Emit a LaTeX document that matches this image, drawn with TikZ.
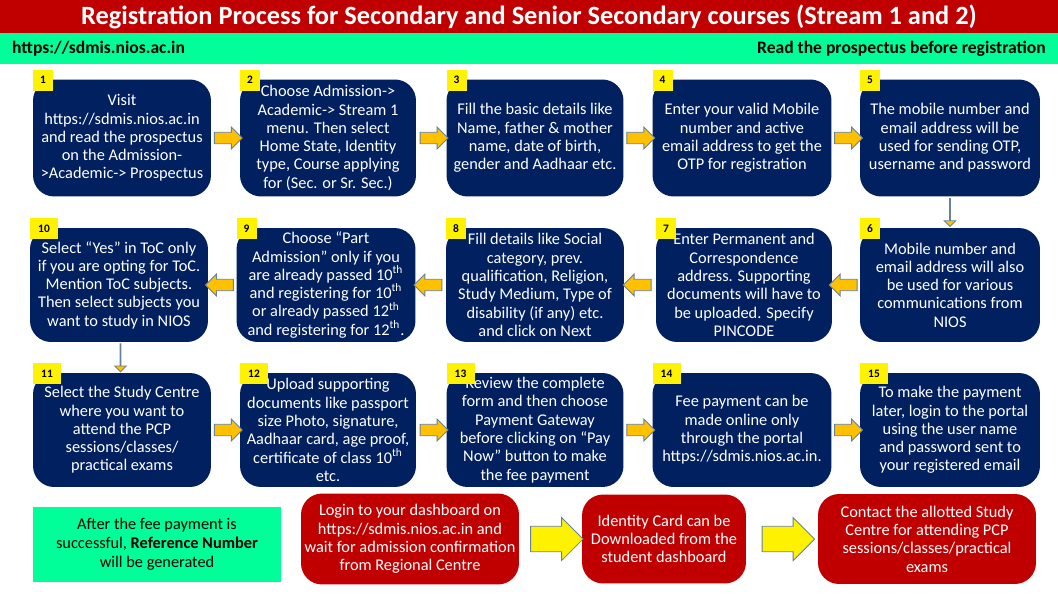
\documentclass[tikz,border=0pt]{standalone}
\usepackage{fontspec}
\setmainfont{Carlito}
\usetikzlibrary{shapes.arrows,calc}
\definecolor{navy}{RGB}{0,32,96}
\definecolor{titlered}{RGB}{192,0,0}
\definecolor{bargreen}{RGB}{0,255,153}
\definecolor{arroworange}{RGB}{255,192,0}
\definecolor{arrowedge}{RGB}{100,130,160}
\tikzset{
  stepbox/.style={fill=navy,text=white,rounded corners=12pt,align=center,
    font=\fontsize{9.3}{10.4}\selectfont,inner sep=1pt},
  redbox/.style={fill=titlered,text=white,rounded corners=12pt,align=center,
    font=\fontsize{9.3}{10.4}\selectfont,inner sep=1pt},
  badge/.style={fill=yellow,font=\fontsize{6.5}{7}\selectfont\bfseries,inner sep=0pt,
    minimum height=0.42cm,anchor=north west},
  blockarrow/.style={single arrow,fill=arroworange,draw=arrowedge,line width=0.5pt,
    minimum height=0.56cm,inner xsep=0pt,inner ysep=3pt,single arrow head extend=3pt},
  bigarrow/.style={single arrow,fill=yellow,draw=arrowedge,line width=0.5pt,
    minimum height=1.05cm,inner xsep=0pt,inner ysep=7pt,single arrow head extend=5pt}
}
\newcommand{\ordth}{\textsuperscript{th}}
\begin{document}
\begin{tikzpicture}[x=0.02cm,y=-0.02cm]
  \useasboundingbox (0,0) rectangle (1058,612);
  \fill[white] (0,0) rectangle (1058,612);
  % header bars
  \fill[titlered] (0,0) rectangle (1058,33);
  \node[text=white,font=\fontsize{15}{16}\selectfont\bfseries] (title) at (529,17)
    {Registration Process for Secondary and Senior Secondary courses (Stream 1 and 2)};
  \fill[bargreen] (0,33) rectangle (1058,64);
  \node[anchor=west,font=\fontsize{10}{12}\selectfont\bfseries] (site) at (6,49) {https://sdmis.nios.ac.in};
  \node[anchor=east,font=\fontsize{10}{12}\selectfont\bfseries] (read) at (1052,49) {Read the prospectus before registration};
  % row 1
  \node[stepbox,minimum width=3.56cm,minimum height=2.34cm] (s1) at (122,138)
    {Visit\\https://sdmis.nios.ac.in\\and read the prospectus\\on the Admission-\\>Academic-> Prospectus};
  \node[stepbox,minimum width=3.52cm,minimum height=2.34cm] (s2) at (328,138)
    {Choose Admission->\\Academic-> Stream 1\\menu. Then select\\Home State, Identity\\type, Course applying\\for (Sec. or Sr. Sec.)};
  \node[stepbox,minimum width=3.54cm,minimum height=2.34cm] (s3) at (535,138)
    {Fill the basic details like\\Name, father \& mother\\name, date of birth,\\gender and Aadhaar etc.};
  \node[stepbox,minimum width=3.58cm,minimum height=2.34cm] (s4) at (742,138)
    {Enter your valid Mobile\\number and active\\email address to get the\\OTP for registration};
  \node[stepbox,minimum width=3.6cm,minimum height=2.34cm] (s5) at (950,138)
    {The mobile number and\\email address will be\\used for sending OTP,\\username and password};
  % row 2
  \node[stepbox,minimum width=3.56cm,minimum height=2.28cm] (s10) at (119,285)
    {Select “Yes” in ToC only\\if you are opting for ToC.\\Mention ToC subjects.\\Then select subjects you\\want to study in NIOS};
  \node[stepbox,minimum width=3.58cm,minimum height=2.28cm] (s9) at (326,285)
    {Choose “Part\\Admission” only if you\\are already passed 10\ordth\\and registering for 10\ordth\\or already passed 12\ordth\\and registering for 12\ordth.};
  \node[stepbox,minimum width=3.56cm,minimum height=2.28cm] (s8) at (535,285)
    {Fill details like Social\\category, prev.\\qualification, Religion,\\Study Medium, Type of\\disability (if any) etc.\\and click on Next};
  \node[stepbox,minimum width=3.52cm,minimum height=2.28cm] (s7) at (744,285)
    {Enter Permanent and\\Correspondence\\address. Supporting\\documents will have to\\be uploaded. Specify\\PINCODE};
  \node[stepbox,minimum width=3.6cm,minimum height=2.28cm] (s6) at (950,285)
    {Mobile number and\\email address will also\\be used for various\\communications from\\NIOS};
  % row 3
  \node[stepbox,minimum width=3.56cm,minimum height=2.28cm] (s11) at (122,430)
    {Select the Study Centre\\where you want to\\attend the PCP\\sessions/classes/\\practical exams};
  \node[stepbox,minimum width=3.52cm,minimum height=2.28cm] (s12) at (328,430)
    {Upload supporting\\documents like passport\\size Photo, signature,\\Aadhaar card, age proof,\\certificate of class 10\ordth\\etc.};
  \node[stepbox,minimum width=3.54cm,minimum height=2.28cm] (s13) at (535,430)
    {Review the complete\\form and then choose\\Payment Gateway\\before clicking on “Pay\\Now” button to make\\the fee payment};
  \node[stepbox,minimum width=3.58cm,minimum height=2.28cm] (s14) at (742,430)
    {Fee payment can be\\made online only\\through the portal\\https://sdmis.nios.ac.in.};
  \node[stepbox,minimum width=3.6cm,minimum height=2.28cm] (s15) at (950,430)
    {To make the payment\\later, login to the portal\\using the user name\\and password sent to\\your registered email};
  % badges
  \foreach \s/\n/\w in {s1/1/0.4,s2/2/0.4,s3/3/0.4,s4/4/0.4,s5/5/0.4,s10/10/0.56,s9/9/0.4,
      s8/8/0.4,s7/7/0.4,s6/6/0.4,s11/11/0.56,s12/12/0.56,s13/13/0.56,s14/14/0.56,s15/15/0.56}
    \node[badge,minimum width=\w cm] (b\n) at ($(\s.north west)+(0,-10)$) {\n};
  % row 4
  \node[fill=bargreen,minimum width=4.96cm,minimum height=1.5cm,align=center,
    font=\fontsize{9.3}{10.8}\selectfont] (note) at (157,544)
    {After the fee payment is\\successful, \textbf{Reference Number}\\will be generated};
  \node[redbox,minimum width=4.36cm,minimum height=1.82cm] (r1) at (410,539)
    {Login to your dashboard on\\https://sdmis.nios.ac.in and\\wait for admission confirmation\\from Regional Centre};
  \node[redbox,minimum width=3.28cm,minimum height=1.78cm] (r2) at (664,539)
    {Identity Card can be\\Downloaded from the\\student dashboard};
  \node[redbox,minimum width=4.36cm,minimum height=1.8cm] (r3) at (927,539)
    {Contact the allotted Study\\Centre for attending PCP\\sessions/classes/practical\\exams};
  % arrows
  \foreach \a/\b in {s1/s2,s2/s3,s3/s4,s4/s5,s11/s12,s12/s13,s13/s14,s14/s15}
    \node[blockarrow] at ($(\a.east)!0.5!(\b.west)$) {};
  \foreach \a/\b in {s6/s7,s7/s8,s8/s9,s9/s10}
    \node[blockarrow,shape border rotate=180] at ($(\a.west)!0.5!(\b.east)$) {};
  \node[blockarrow,shape border rotate=270] at ($(s5.south)!0.5!(s6.north)$) {};
  \node[blockarrow,shape border rotate=270] at ($(s10.south)!0.5!(s11.north)$) {};
  \node[bigarrow] at ($(r1.east)!0.5!(r2.west)$) {};
  \node[bigarrow] at ($(r2.east)!0.5!(r3.west)$) {};
\end{tikzpicture}
\end{document}
